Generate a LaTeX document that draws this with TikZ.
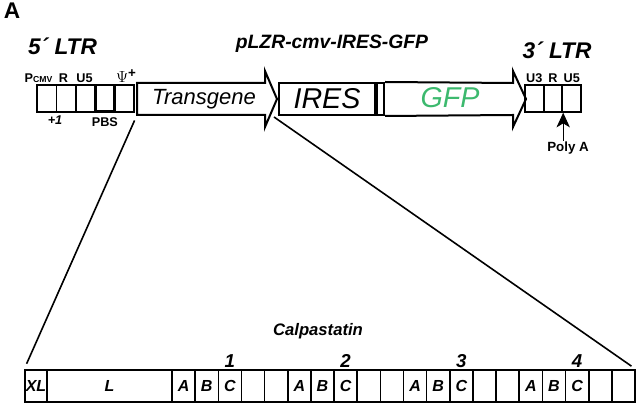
\documentclass[tikz,border=0pt]{standalone}
\usepackage{fontspec}
\setmainfont{Liberation Sans}
\usetikzlibrary{arrows.meta}
\definecolor{gfpgreen}{RGB}{60,185,110}

\begin{document}
\begin{tikzpicture}[x=0.75pt,y=-0.75pt,
  ltrbox/.style={draw,line width=1.3pt,minimum width=14.55pt,minimum height=20pt,inner sep=0pt},
  cell/.style={draw,line width=1.2pt,minimum width=17.36pt,minimum height=24pt,inner sep=0pt,
    font=\bfseries\itshape\fontsize{12}{12}\selectfont},
  tag/.style={font=\bfseries\fontsize{9.5}{9.5}\selectfont,anchor=base,inner sep=0pt},
  title/.style={font=\bfseries\itshape\fontsize{17}{17}\selectfont,inner sep=0pt},
  gene/.style={line width=1.5pt},
  link/.style={line width=1.2pt}]

\useasboundingbox (0,0) rectangle (640,409);

\node[font=\bfseries\fontsize{17}{17}\selectfont,inner sep=0pt] (panel) at (12,11) {A};

% 5' ltr
\node[title] (ltrfive) at (62.5,46) {5´ LTR};
\foreach \i in {0,1,2,4}
  \node[ltrbox] (f\i) at ({46.7+19.4*\i},98.5) {};
\node[ltrbox,line width=2pt] (f3) at (104.9,98.5) {};

\node[tag] (pcmv) at (38.5,82.5) {P{\fontsize{6.5}{6.5}\selectfont CMV}};
\node[tag] (rfive) at (63.5,82.5) {R};
\node[tag] (ufive) at (84.5,82.5) {U5};
\node[tag,font=\fontsize{13}{13}\selectfont] (psi) at (126,82.5) {$\Psi$\raisebox{4pt}{\bfseries\fontsize{10}{10}\selectfont +}};
\node[tag,font=\bfseries\itshape\fontsize{9.5}{9.5}\selectfont] (plusone) at (55,125) {+1};
\node[tag] (pbs) at (f3 |- 0,127) {PBS};

% transgene
\draw[gene] (137,83) -- (265,83) -- (265,71) -- (277,99) -- (265,127) -- (265,115) -- (137,115) -- cycle;
\node[font=\itshape\fontsize{16.5}{16.5}\selectfont] (tg) at (204,99) {Transgene};
\coordinate (tgfoot) at (137,115);
\coordinate (tgsplit) at (274,117);

% ires
\node[draw,gene,minimum width=72pt,minimum height=24pt,inner sep=0pt,
  font=\itshape\fontsize{21.5}{21.5}\selectfont] (ires) at (327,99) {IRES};
\node[draw,gene,minimum width=5.25pt,minimum height=24pt,inner sep=0pt,anchor=west] (spacer) at (ires.east) {};

% gfp
\draw[gene] (spacer.north east) -- (513,83) -- (513,71) -- (526,99) -- (513,127) -- (513,115) -- (spacer.south east);
\node[font=\fontsize{21.5}{21.5}\selectfont,text=gfpgreen] (gfp) at (450,98) {\itshape GFP};

\node[font=\bfseries\itshape\fontsize{14.5}{14.5}\selectfont,inner sep=0pt] (vector) at (332,44) {pLZR-cmv-IRES-GFP};

% 3' ltr
\node[title] (ltrthree) at (557,50) {3´ LTR};
\foreach \i/\lab in {0/U3,1/R,2/U5} {
  \node[ltrbox,minimum width=14pt] (t\i) at ({534.3+18.7*\i},98.5) {};
  \node[tag] at (t\i |- 0,82.5) {\lab};
}
\node[tag,font=\bfseries\fontsize{10}{10}\selectfont] (polya) at (568,152) {Poly A};
\draw[-{Stealth[length=11pt,width=10pt,inset=3pt]},line width=0.8pt,shorten <=1pt]
  (t1.south east |- polya.north) -- (t1.south east);

% calpastatin
\node[font=\bfseries\itshape\fontsize{12.5}{12.5}\selectfont] (calp) at (318,331) {Calpastatin};

\node[cell,minimum width=16.5pt] (xl) at (36,386) {XL};
\node[cell,minimum width=93.75pt] (l) at (109.5,386) {L};
\foreach \lab [count=\i from 0] in {A,B,C,{},{},A,B,C,{},{},A,B,C,{},{},A,B,C,{},{}}
  \node[cell] (c\i) at ({183.6+23.15*\i},386) {\lab};

\foreach \n/\k in {1/2,2/7,3/12,4/17}
  \node[font=\bfseries\itshape\fontsize{14}{14}\selectfont,anchor=base,inner sep=0pt] (num\n) at (c\k.north |- 0,368) {\n};

% zoom lines
\draw[link,shorten <=4.5pt,shorten >=4.5pt] (tgfoot) -- (xl.north west);
\draw[link,shorten >=4pt] (tgsplit) -- (c19.north east);

\end{tikzpicture}
\end{document}
